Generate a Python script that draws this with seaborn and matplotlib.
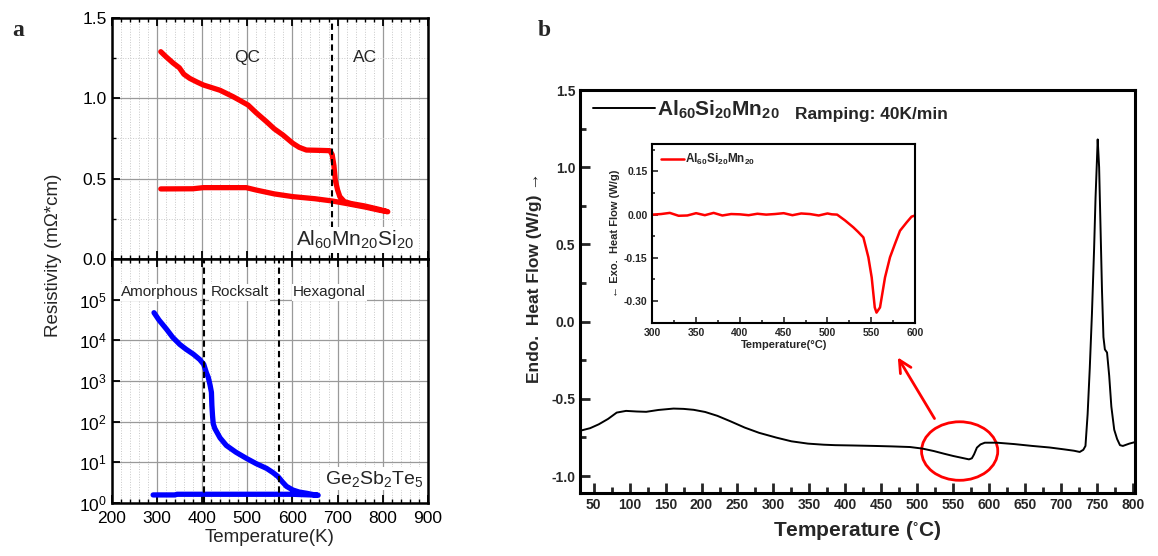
import numpy as np
import pandas as pd
import matplotlib
matplotlib.use("Agg")
import matplotlib.pyplot as plt
import seaborn as sns
from matplotlib.lines import Line2D
from matplotlib.patches import Ellipse
from matplotlib.ticker import MultipleLocator, FixedLocator, NullFormatter

# ---- panel a, top: Al60Mn20Si20 resistivity loop (K, mOhm*cm)
t_qc_heat = [309, 320, 336, 350, 360, 373, 390, 403, 440, 469, 485, 502, 520, 543, 560, 579,
             601, 615, 631, 660, 683, 688, 692, 695, 700, 705, 715, 730, 760, 790, 811]
r_qc_heat = [1.29, 1.26, 1.22, 1.19, 1.15, 1.124, 1.10, 1.083, 1.05, 1.01, 0.985, 0.958, 0.91,
             0.854, 0.81, 0.772, 0.72, 0.695, 0.678, 0.676, 0.674, 0.65, 0.58, 0.49, 0.43, 0.388,
             0.357, 0.345, 0.33, 0.31, 0.294]
t_qc_cool = [811, 790, 763, 720, 688, 650, 601, 560, 520, 498, 403, 380, 309]
r_qc_cool = [0.294, 0.305, 0.322, 0.345, 0.361, 0.375, 0.388, 0.405, 0.429, 0.444, 0.444, 0.437, 0.436]

# ---- panel a, bottom: Ge2Sb2Te5 resistivity loop
t_gst_heat = [294, 305, 322, 335, 351, 365, 381, 395, 404, 410, 414, 418, 421, 422, 423.4, 425,
              428.5, 440, 454, 475, 498, 520, 543, 557, 568, 578, 587, 601, 615, 631, 645, 657]
r_gst_heat = [47900, 31600, 18600, 12000, 7940, 6030, 4570, 3390, 2570, 1580, 1230, 794, 525,
              251, 141, 89, 68, 40, 26, 17.8, 12.6, 9.3, 7.1, 5.6, 4.5, 3.3, 2.57, 2.09, 1.86,
              1.74, 1.62, 1.55]
t_gst_cool = [657, 640, 600, 500, 400, 345, 340, 292]
r_gst_cool = [1.55, 1.58, 1.64, 1.64, 1.64, 1.64, 1.58, 1.58]

# ---- panel b: DSC, 40 K/min (deg C, W/g)
t_dsc = [30, 45, 57, 70, 82, 95, 110, 123, 140, 161, 175, 189, 205, 222, 240, 260, 280, 304, 325,
         348, 370, 386, 410, 441, 465, 490, 507, 523, 537, 550, 562, 572, 576, 579, 583, 588, 594,
         611, 635, 660, 684, 704, 718, 726, 731, 734, 737, 740, 743, 746, 748, 750, 751, 753, 755,
         757, 759, 761, 764, 767, 770, 774, 778, 782, 786, 795, 803]
hf_dsc = [-0.708, -0.69, -0.665, -0.63, -0.589, -0.578, -0.582, -0.584, -0.572, -0.563, -0.565,
          -0.571, -0.585, -0.61, -0.645, -0.686, -0.72, -0.751, -0.775, -0.79, -0.797, -0.80,
          -0.802, -0.805, -0.808, -0.812, -0.822, -0.838, -0.855, -0.87, -0.882, -0.892, -0.885,
          -0.86, -0.816, -0.795, -0.784, -0.784, -0.793, -0.805, -0.815, -0.827, -0.836, -0.844,
          -0.83, -0.805, -0.6, -0.3, 0.05, 0.47, 0.8, 1.05, 1.18, 1.0, 0.6, 0.2, -0.1, -0.18,
          -0.2, -0.35, -0.55, -0.7, -0.76, -0.8, -0.805, -0.79, -0.78]

# inset: exothermic peak
t_exo = [300, 310, 320, 330, 340, 350, 360, 370, 380, 390, 400, 410, 420, 430, 440, 450, 460,
         470, 480, 490, 500, 505, 511, 520, 529.5, 535, 541, 546.7, 550.5, 554, 556, 560, 565.7,
         571.4, 577, 582.8, 590.4, 596, 600]
hf_exo = [0.0, 0.002, 0.006, -0.004, -0.003, 0.005, -0.002, 0.006, -0.003, 0.002, 0.001, -0.002,
          0.003, 0.0, 0.002, 0.005, -0.002, 0.004, 0.002, -0.003, 0.004, 0.001, 0.0, -0.02, -0.044,
          -0.06, -0.079, -0.148, -0.218, -0.322, -0.34, -0.322, -0.218, -0.148, -0.102, -0.056,
          -0.027, -0.007, -0.003]

qc_ac_line = 688
gst_lines = [404, 570]

sns.set_theme(style="ticks")
plt.rcParams["font.family"] = ["Liberation Sans", "DejaVu Sans"]
plt.rcParams["mathtext.fontset"] = "custom"
plt.rcParams["mathtext.rm"] = "Liberation Sans"
plt.rcParams["mathtext.bf"] = "Liberation Sans:bold"
plt.rcParams["mathtext.it"] = "Liberation Sans:italic"
plt.rcParams["mathtext.default"] = "regular"

fig = plt.figure(figsize=(11.58, 5.56), dpi=100)
ax_top = fig.add_axes([0.0963, 0.5342, 0.2733, 0.4335])
ax_bot = fig.add_axes([0.0963, 0.0953, 0.2733, 0.4388])
ax_b = fig.add_axes([0.5009, 0.1138, 0.4793, 0.7243])
ax_in = fig.add_axes([0.5633, 0.4196, 0.2269, 0.3214])

# ---------- panel a
for ax in (ax_top, ax_bot):
    ax.set_xlim(200, 900)
    ax.xaxis.set_major_locator(MultipleLocator(100))
    ax.xaxis.set_minor_locator(MultipleLocator(20))
    ax.grid(True, which="major", color="#9a9a9a", lw=0.9, ls="-")
    ax.grid(True, which="minor", axis="x", color="#c8c8c8", lw=0.7, ls=":")
    ax.tick_params(which="both", direction="in", top=True, right=False, labelsize=12.5,
                   colors="black")
    ax.tick_params(which="major", length=6, width=1.3)
    ax.tick_params(which="minor", length=3, width=1)
    ax.tick_params(axis="x", pad=6)
    for s in ax.spines.values():
        s.set_linewidth(1.8)
        s.set_color("black")
    ax.set_axisbelow(True)

sns.lineplot(x=t_qc_heat + t_qc_cool, y=r_qc_heat + r_qc_cool, sort=False, estimator=None,
             ax=ax_top, color="#ff0000", lw=3.8)
ax_top.set_ylim(0, 1.5)
ax_top.yaxis.set_major_locator(MultipleLocator(0.5))
ax_top.yaxis.set_minor_locator(MultipleLocator(0.25))
ax_top.grid(True, which="minor", axis="y", color="#c8c8c8", lw=0.7, ls=":")
ax_top.yaxis.set_major_formatter(plt.FormatStrFormatter("%.1f"))
ax_top.tick_params(labelbottom=False)
ax_top.axvline(qc_ac_line, color="black", ls=(0, (3, 2)), lw=1.5)
ax_top.text(499, 1.257, "QC", fontsize=12.5, ha="center", va="center")
ax_top.text(760, 1.257, "AC", fontsize=12.5, ha="center", va="center")
ax_top.text(738, 0.118, "Al$_{60}$Mn$_{20}$Si$_{20}$", fontsize=15, ha="center", va="center",
            bbox=dict(facecolor="white", edgecolor="none", pad=1))

sns.lineplot(x=t_gst_heat + t_gst_cool, y=r_gst_heat + r_gst_cool, sort=False, estimator=None,
             ax=ax_bot, color="#0000ff", lw=3.8)
ax_bot.set_yscale("log")
ax_bot.set_ylim(1, 1e6)
ax_bot.yaxis.set_major_locator(FixedLocator([1, 10, 100, 1e3, 1e4, 1e5]))
ax_bot.yaxis.set_minor_locator(FixedLocator([]))
for x in gst_lines:
    ax_bot.axvline(x, color="black", ls=(0, (3, 2)), lw=1.5)
for txt, xx in [("Amorphous", 307), ("Rocksalt", 484), ("Hexagonal", 682)]:
    ax_bot.text(xx, 10 ** 5.18, txt, fontsize=11, ha="center", va="center",
                bbox=dict(facecolor="white", edgecolor="none", pad=1))
ax_bot.text(782, 10 ** 0.6, "Ge$_2$Sb$_2$Te$_5$", fontsize=14, ha="center", va="center",
            bbox=dict(facecolor="white", edgecolor="none", pad=1))
ax_bot.set_xlabel("Temperature(K)", fontsize=13.5, labelpad=2)
ax_bot.set_ylabel("")
ax_top.set_ylabel("")

fig.text(0.046, 0.54, "Resistivity (m\u03a9*cm)", rotation=90, fontsize=13.5, ha="center",
         va="center")
fig.text(0.011, 0.935, "a", fontsize=17, fontweight="bold", family="Liberation Serif")
fig.text(0.464, 0.935, "b", fontsize=17, fontweight="bold", family="Liberation Serif")

# ---------- panel b
sns.lineplot(x=t_dsc, y=hf_dsc, sort=False, estimator=None, ax=ax_b, color="black", lw=1.4)
ax_b.set_xlim(31, 803)
ax_b.set_ylim(-1.108, 1.5)
ax_b.xaxis.set_major_locator(MultipleLocator(50))
ax_b.xaxis.set_minor_locator(MultipleLocator(25))
ax_b.yaxis.set_major_locator(MultipleLocator(0.5))
ax_b.yaxis.set_minor_locator(MultipleLocator(0.25))
ax_b.yaxis.set_major_formatter(plt.FormatStrFormatter("%.1f"))
ax_b.tick_params(which="both", direction="in", labelsize=10, width=2)
ax_b.tick_params(which="major", length=7)
ax_b.tick_params(which="minor", length=4)
for lab in ax_b.get_xticklabels() + ax_b.get_yticklabels():
    lab.set_fontweight("bold")
for s in ax_b.spines.values():
    s.set_linewidth(2.2)
    s.set_color("black")
ax_b.set_xlabel("Temperature ($^{\\circ}$C)", fontsize=15, fontweight="bold", labelpad=5)
ax_b.set_ylabel("")
fig.text(0.462, 0.50, "Endo.  Heat Flow (W/g) \u2192", rotation=90, fontsize=12.5,
         fontweight="bold", ha="center", va="center")

ax_b.legend(handles=[Line2D([], [], color="black", lw=1.4)],
            labels=["$\\mathbf{Al_{60}Si_{20}Mn_{20}}$"], loc="upper left", frameon=False,
            fontsize=15, handlelength=3.0, handletextpad=0.1, borderaxespad=0.2,
            bbox_to_anchor=(0.0, 1.01))
ax_b.text(0.388, 0.94, "Ramping: 40K/min", transform=ax_b.transAxes, fontsize=12.5,
          fontweight="bold", va="center")

circle = Ellipse((559, -0.838), 106, 0.379, fill=False, ec="#ff0000", lw=2)
ax_b.add_patch(circle)
ax_b.annotate("", xy=(471, -0.216), xytext=(526, -0.643),
              arrowprops=dict(arrowstyle="->", color="#ff0000", lw=2, mutation_scale=22))

# inset
sns.lineplot(x=t_exo, y=hf_exo, sort=False, estimator=None, ax=ax_in, color="#ff0000", lw=1.8)
ax_in.set_xlim(300, 600)
ax_in.set_ylim(-0.375, 0.245)
ax_in.xaxis.set_major_locator(MultipleLocator(50))
ax_in.xaxis.set_minor_locator(MultipleLocator(25))
ax_in.yaxis.set_major_locator(FixedLocator([-0.30, -0.15, 0.0, 0.15]))
ax_in.yaxis.set_minor_locator(FixedLocator([-0.225, -0.075, 0.075, 0.225]))
ax_in.yaxis.set_major_formatter(plt.FormatStrFormatter("%.2f"))
ax_in.tick_params(which="both", direction="in", labelsize=7.5, width=1.2)
ax_in.tick_params(which="major", length=4)
ax_in.tick_params(which="minor", length=2.5)
for lab in ax_in.get_xticklabels() + ax_in.get_yticklabels():
    lab.set_fontweight("bold")
for s in ax_in.spines.values():
    s.set_linewidth(1.5)
    s.set_color("black")
ax_in.set_xlabel("Temperature(\u00b0C)", fontsize=8, fontweight="bold", labelpad=2)
ax_in.set_ylabel("\u2190 Exo.  Heat Flow (W/g)", fontsize=8, fontweight="bold", labelpad=3)
ax_in.legend(handles=[Line2D([], [], color="#ff0000", lw=1.8)],
             labels=["$\\mathbf{Al_{60}Si_{20}Mn_{20}}$"], loc="upper left", frameon=False,
             fontsize=8.5, handlelength=2.0, handletextpad=0.1, borderaxespad=0.3)

fig.savefig("out.png", dpi=100)
